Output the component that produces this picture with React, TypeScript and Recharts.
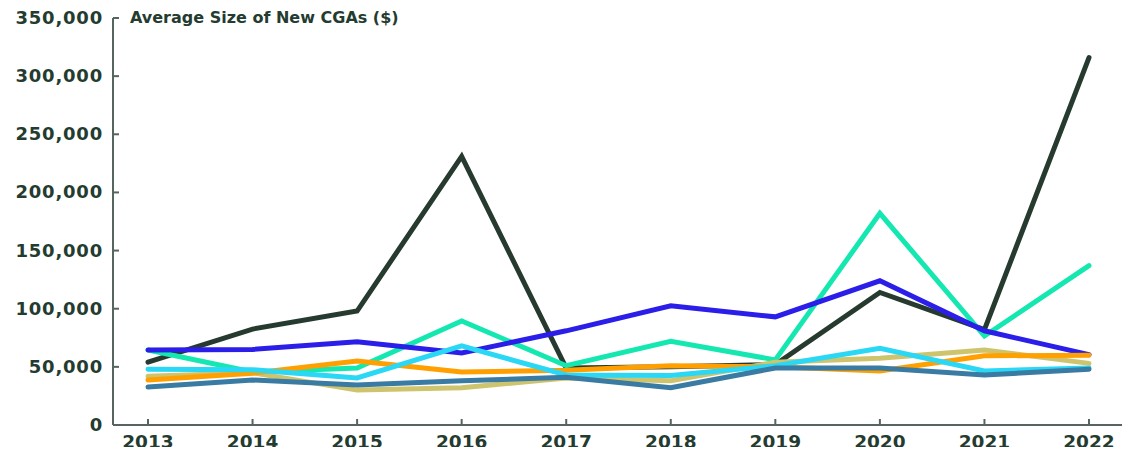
import React from 'react';
import { LineChart, Line, XAxis, YAxis } from 'recharts';

const years = ['2013', '2014', '2015', '2016', '2017', '2018', '2019', '2020', '2021', '2022'];

const darkSeries = [54000, 82500, 98000, 231000, 49000, 50000, 52000, 114000, 82000, 316000];
const mintSeries = [64500, 45600, 49000, 89500, 51000, 72000, 56000, 182000, 76500, 137000];
const blueSeries = [64500, 65000, 71500, 62000, 81000, 102500, 93000, 124000, 81000, 60500];
const khakiSeries = [42000, 45000, 30000, 32000, 40500, 38000, 54000, 57500, 64500, 53000];
const orangeSeries = [38700, 44500, 55000, 45500, 47000, 51000, 50000, 46500, 59500, 60000];
const cyanSeries = [48000, 47500, 40500, 68000, 43000, 42500, 51000, 66000, 46500, 49000];
const steelSeries = [32700, 38700, 34500, 38000, 41000, 32000, 49000, 49000, 43000, 48000];

const yTicks = [0, 50000, 100000, 150000, 200000, 250000, 300000, 350000];

const series = [
  { key: 'dark', values: darkSeries, color: '#263a2f' },
  { key: 'mint', values: mintSeries, color: '#14e8b0' },
  { key: 'blue', values: blueSeries, color: '#2b1ee8' },
  { key: 'khaki', values: khakiSeries, color: '#cfc46e' },
  { key: 'orange', values: orangeSeries, color: '#ffa000' },
  { key: 'cyan', values: cyanSeries, color: '#2ad8f6' },
  { key: 'steel', values: steelSeries, color: '#3a7ba3' },
];

const data = years.map((year, i) => {
  const row: Record<string, string | number> = { year };
  series.forEach((s) => {
    row[s.key] = s.values[i];
  });
  return row;
});

const TEXT = '#243b2f';
const AXIS = '#56655d';
const FONT = '"DejaVu Sans", sans-serif';

function YTick({ x, y, payload }: any) {
  return (
    <g>
      <line x1={x + 10} x2={x + 16} y1={y} y2={y} stroke={AXIS} strokeWidth={2} />
      <text
        x={x}
        y={y}
        dy={6}
        textAnchor="end"
        fill={TEXT}
        fontFamily={FONT}
        fontWeight="bold"
        fontSize={18}
        letterSpacing={0.8}
      >
        {Number(payload.value).toLocaleString('en-US')}
      </text>
    </g>
  );
}

function XTick({ x, y, payload }: any) {
  return (
    <g>
      <line x1={x} x2={x} y1={y} y2={y - 6} stroke={AXIS} strokeWidth={2} />
      <text
        x={x}
        y={y}
        dy={23}
        textAnchor="middle"
        fill={TEXT}
        fontFamily={FONT}
        fontWeight="bold"
        fontSize={18.5}
      >
        {payload.value}
      </text>
    </g>
  );
}

export default function App() {
  return (
    <div style={{ margin: -8, position: 'relative', width: 1134, height: 455, background: '#fff' }}>
      <LineChart
        width={1134}
        height={455}
        data={data}
        margin={{ top: 18, right: 12, bottom: 0, left: 0 }}
      >
        <XAxis
          dataKey="year"
          height={30}
          padding={{ left: 35, right: 33 }}
          axisLine={{ stroke: AXIS, strokeWidth: 2 }}
          tickLine={false}
          tickSize={0}
          tickMargin={0}
          tick={<XTick />}
          interval={0}
        />
        <YAxis
          width={113}
          domain={[0, 350000]}
          ticks={yTicks}
          axisLine={{ stroke: AXIS, strokeWidth: 2 }}
          tickLine={false}
          tickSize={0}
          tickMargin={10}
          tick={<YTick />}
          interval={0}
        />
        {series.map((s) => (
          <Line
            key={s.key}
            dataKey={s.key}
            stroke={s.color}
            strokeWidth={5}
            strokeLinecap="round"
            strokeLinejoin="miter"
            dot={false}
            activeDot={false}
            isAnimationActive={false}
          />
        ))}
      </LineChart>
      <div
        style={{
          position: 'absolute',
          left: 130,
          top: 8,
          fontFamily: FONT,
          fontWeight: 'bold',
          fontSize: 16,
          color: TEXT,
          whiteSpace: 'nowrap',
        }}
      >
        Average Size of New CGAs ($)
      </div>
    </div>
  );
}
